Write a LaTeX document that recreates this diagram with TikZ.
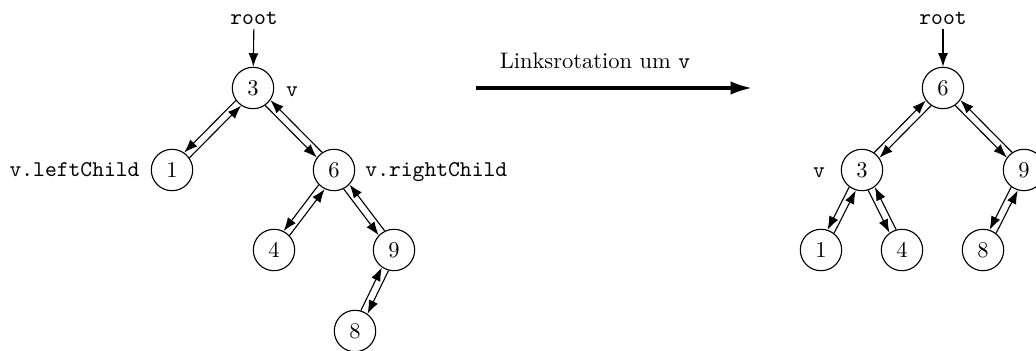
\documentclass[tikz,border=0pt]{standalone}
\usetikzlibrary{arrows.meta,calc}
% both pointers on the right of their direction of travel
\newcommand{\dedge}[2]{%
  \draw[arr] let \p1=($(#2)-(#1)$), \n1={atan2(\y1,\x1)}, \n2={\n1-10}, \n3={\n1+190} in (#1.\n2) -- (#2.\n3);
  \draw[arr] let \p1=($(#2)-(#1)$), \n1={atan2(\y1,\x1)}, \n2={\n1+170}, \n3={\n1+10} in (#2.\n2) -- (#1.\n3);
}
% both pointers on the left of their direction of travel
\newcommand{\dedgeL}[2]{%
  \draw[arr] let \p1=($(#2)-(#1)$), \n1={atan2(\y1,\x1)}, \n2={\n1+10}, \n3={\n1+170} in (#1.\n2) -- (#2.\n3);
  \draw[arr] let \p1=($(#2)-(#1)$), \n1={atan2(\y1,\x1)}, \n2={\n1+190}, \n3={\n1-10} in (#2.\n2) -- (#1.\n3);
}
\begin{document}
\begin{tikzpicture}[x=0.4444pt,y=-0.4444pt,
  tnode/.style={draw,circle,minimum size=18.4pt,inner sep=0pt,line width=0.5pt},
  arr/.style={-{Latex[length=6pt,width=4.4pt]},line width=0.5pt},
  lab/.style={font=\ttfamily,inner sep=0pt}]
\useasboundingbox (0,0) rectangle (1036,350);
\clip (0,0) rectangle (1036,350);
% left tree
\node[tnode] (l3) at (253,88) {3};
\node[tnode] (l1) at (172,170) {1};
\node[tnode] (l6) at (334,170) {6};
\node[tnode] (l4) at (274,250) {4};
\node[tnode] (l9) at (394,250) {9};
\node[tnode] (l8) at (355,331) {8};
\node[lab,anchor=base] (lroot) at (254,24) {root};
\node[lab,anchor=base] (lv) at (292,96) {v};
\node[lab,anchor=base east] (llc) at (140,176) {v.leftChild};
\node[lab,anchor=base west] (lrc) at (365,176) {v.rightChild};
\draw[arr,shorten <=2pt] (lroot) -- (l3);
\dedge{l3}{l1}
\dedge{l3}{l6}
\dedge{l6}{l4}
\dedge{l6}{l9}
\dedgeL{l9}{l8}
% arrow
\coordinate (as) at (476,88);
\coordinate (ae) at (752,88);
\draw[-{Latex[length=9.5pt,width=6pt]},line width=1.4pt] (as) -- (ae);
\node[anchor=base,inner sep=0pt] (alab) at (595,68) {Linksrotation um \texttt{v}};
% right tree
\node[tnode] (r6) at (943,88) {6};
\node[tnode] (r3) at (862,170) {3};
\node[tnode] (r9) at (1024,170) {9};
\node[tnode] (r1) at (821,250) {1};
\node[tnode] (r4) at (902,250) {4};
\node[tnode] (r8) at (983,250) {8};
\node[lab,anchor=base] (rroot) at (943,24) {root};
\node[lab,anchor=base] (rv) at (819,177) {v};
\draw[arr,shorten <=2pt] (rroot) -- (r6);
\dedgeL{r6}{r3}
\dedge{r6}{r9}
\dedge{r3}{r1}
\dedge{r3}{r4}
\dedge{r9}{r8}
\end{tikzpicture}
\end{document}
